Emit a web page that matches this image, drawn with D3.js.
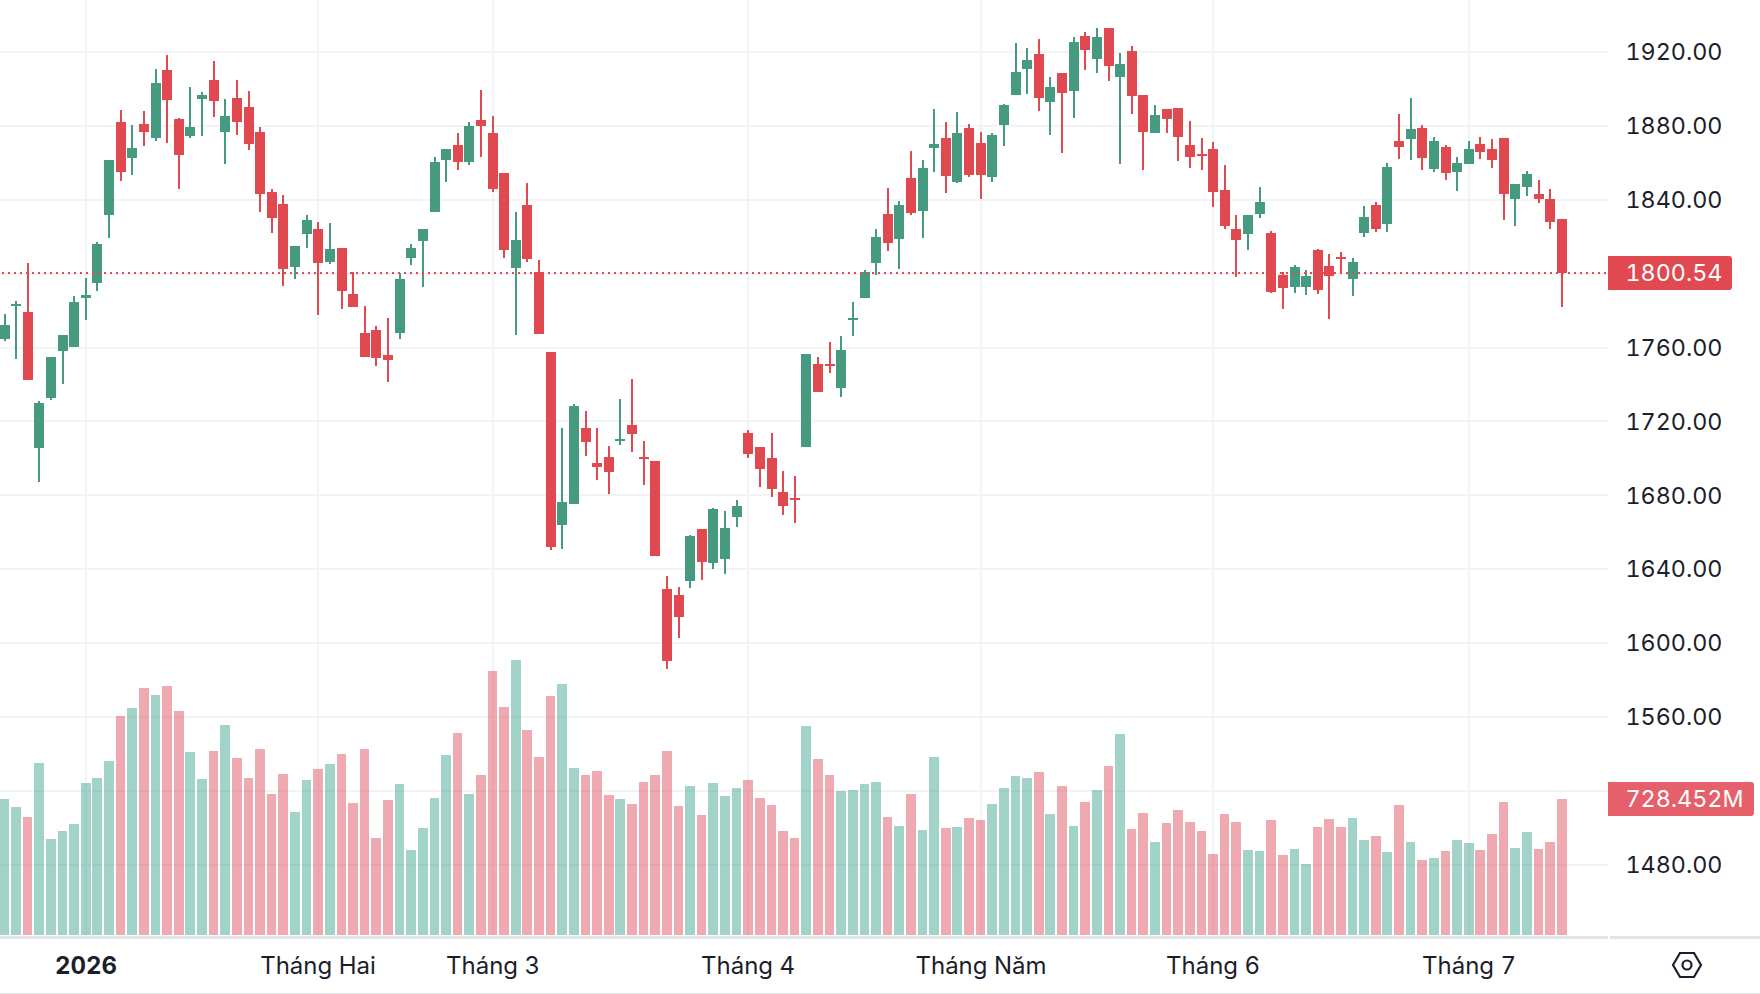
<!DOCTYPE html>
<html lang="vi">
<head>
<meta charset="utf-8">
<title>Biểu đồ nến</title>
<script src="https://cdn.jsdelivr.net/npm/d3@7"></script>
<style>
  html, body { margin: 0; padding: 0; background: #fff; }
  svg { display: block; font-family: Inter, "Noto Sans", sans-serif; font-feature-settings: "tnum" 1; }
  .price-axis text { fill: #1b1e2b; font-size: 23.3px; font-family: Inter, "Noto Sans", sans-serif; }
  .time-axis text { fill: #1b1e2b; font-size: 24px; font-family: Inter, "Noto Sans", sans-serif; }
  .time-axis text.year { font-weight: 700; }
</style>
</head>
<body>
<svg id="chart" width="1760" height="994"></svg>
<script>
// Daily sessions, oldest first
const opens = [1764.6,1782.5,1779.2,1705.6,1732.7,1758.1,1760.3,1786.8,1794.9,1831.8,1882.1,1862.6,1881,1873.4,1910.3,1883.7,1874.5,1894.6,1904.8,1876.7,1895.1,1890.2,1876.7,1844.2,1837.7,1803.6,1821.5,1824.2,1806.3,1813.9,1789,1767.9,1769.5,1756,1768.1,1808.5,1817.6,1833.4,1861.6,1869.6,1860.5,1883.1,1876.1,1854.5,1803.1,1837.1,1800.8,1757.5,1663.8,1675.2,1716.5,1697.4,1700.7,1709.4,1717.9,1700.7,1698.5,1629.2,1625.9,1633.6,1661.8,1643.3,1645.4,1668.2,1713.6,1706.1,1700.1,1681.7,1678.3,1706.1,1751.3,1751.3,1738.3,1775.2,1786.8,1805.8,1832.3,1818.8,1851.8,1833.9,1868,1873.4,1849.6,1878.9,1870.7,1852.3,1880.5,1896.7,1910.8,1918.9,1892.9,1908.6,1898.9,1928.7,1916.2,1933,1906.5,1920.5,1896.7,1876.1,1889.1,1889.7,1869.6,1864.7,1867.4,1845.2,1824.1,1821.3,1832.2,1821.9,1799.1,1792.7,1792.7,1812.7,1804,1808.9,1797,1821.9,1837,1826.8,1871.7,1872.8,1878.7,1856.5,1868.4,1854.9,1859.2,1870.1,1867.4,1873.3,1840.3,1846.8,1843,1840.3,1829.5];
const highs = [1778.2,1785.2,1805.8,1731,1754.9,1766.8,1787.9,1797.6,1817.1,1861.5,1888.6,1880.5,1888.1,1910.8,1918.4,1884.3,1901.1,1898.3,1915.1,1894.6,1904.8,1898.9,1879.4,1845.8,1842.6,1815,1831.8,1828,1827.4,1813.9,1800.9,1782.5,1771.7,1776,1800.2,1816,1824.2,1863.2,1867.6,1876.1,1882.1,1899.5,1885.4,1854.5,1833.4,1849.1,1807.5,1757.5,1716.5,1729.3,1725.6,1716.5,1706.7,1732,1743,1709.4,1698.5,1636.3,1630.3,1658.4,1661.8,1672.9,1671.5,1677.3,1715.2,1706.1,1713.6,1693.1,1690.4,1756.5,1755.1,1763.2,1766,1784.9,1802,1824.2,1846.4,1839.3,1866.4,1861.5,1889.1,1882.1,1887.5,1881,1876.7,1876.1,1891.8,1924.9,1922.2,1927,1906.5,1908.6,1928.1,1930.8,1933,1933,1919.5,1923.2,1896.7,1891.3,1889.1,1889.7,1882.6,1873.3,1871.2,1858.7,1831.6,1831.6,1846.8,1823,1800.8,1804.6,1801.9,1813.2,1810.5,1811.6,1808.4,1836.5,1838.7,1859.8,1886.3,1895,1880.4,1873.9,1869.5,1863,1871.7,1873.9,1872.8,1873.3,1848.4,1855.5,1850.6,1845.7,1829.5];
const lows = [1763.5,1753.8,1742.4,1687.2,1731.6,1740.2,1760.3,1774.9,1790.6,1819.3,1850.2,1853.4,1869.1,1871.8,1870.7,1845.8,1873.4,1874.5,1884.8,1859.4,1875.1,1866.9,1833.4,1822,1793.3,1797.1,1813.9,1777.6,1805.2,1780.9,1782,1754.9,1750,1741.3,1764.4,1804.8,1792.7,1833.4,1849.5,1856.2,1858.9,1863.2,1844.1,1808.5,1766.8,1806.2,1767.3,1650.4,1650.8,1675.2,1701.1,1688.3,1680.6,1707.2,1703.4,1685.6,1647,1585.9,1602.7,1629.6,1634,1640,1637.3,1662.8,1700.1,1684.4,1679,1669.2,1664.9,1706.1,1736.2,1746.5,1733.5,1766,1786.8,1799.3,1812.3,1802.5,1831.7,1819.3,1855,1843.7,1849.1,1852.3,1840.4,1849.6,1869.1,1896.7,1897.3,1888.1,1875,1865.3,1884.3,1910.3,1908.6,1904.3,1859.4,1886.4,1856.1,1876.1,1876.1,1861,1857.2,1856,1836,1824.1,1798.1,1812.7,1830,1789.4,1780.7,1789.4,1788.3,1788.9,1775.3,1800.2,1787.8,1819.7,1822.4,1822.4,1862,1861.4,1856,1854.9,1850.6,1844.6,1859.2,1862,1857.1,1828.9,1825.7,1841.9,1838.1,1824.1,1781.7];
const closes = [1772.2,1783.6,1742.4,1730,1754.9,1766.8,1784.6,1788.4,1816,1861.5,1855,1868,1876.7,1903.2,1894,1864.2,1879.4,1896.7,1893.5,1885.4,1882.1,1870.2,1843.1,1830.1,1802.5,1815,1829,1805.8,1813.3,1790.6,1782,1754.9,1754.3,1753.2,1797.1,1813.9,1824.2,1860.5,1867.6,1860.5,1880,1880,1845.8,1812.9,1818.2,1807.9,1767.3,1652,1676.3,1728.3,1708.8,1695.3,1692.6,1710.5,1713.2,1699.7,1647,1590.3,1614.1,1657.8,1643.7,1672.5,1662.2,1674.2,1702.4,1694.1,1683.3,1674.2,1677.3,1756.5,1736.2,1750.3,1758.9,1776.2,1800.9,1819.8,1816.6,1837.2,1832.8,1857.2,1870.2,1852.9,1876.1,1853.4,1853.4,1875,1891.3,1909.2,1915.7,1895.1,1901,1897.8,1925.4,1921.1,1928.1,1912.4,1913.5,1896.2,1876.7,1885.9,1883.7,1874,1863.2,1863.6,1844.1,1825.7,1818.1,1831.6,1838.7,1789.9,1792.1,1803.5,1798.6,1791,1798.6,1807.8,1806.2,1830.6,1824.1,1857.6,1868.4,1878.2,1862.5,1871.7,1854.4,1859.8,1867.4,1865.7,1861.4,1843,1848.4,1853.8,1840.3,1827.8,1800.54];
// Traded volume per session, in millions
const volumes = [728,685,632,921,514,557,594,814,841,932,1173,1216,1323,1285,1333,1200,980,835,985,1125,948,841,996,755,862,659,830,889,916,969,707,996,519,723,809,455,573,734,964,1082,755,857,1414,1221,1473,1098,953,1280,1344,894,857,878,750,728,702,819,857,985,691,798,643,814,744,787,830,734,696,557,519,1119,942,857,771,776,809,819,632,584,755,562,953,573,578,627,616,702,787,851,841,873,648,798,584,712,776,905,1076,568,653,498,600,669,605,557,434,648,605,455,450,616,428,461,380,578,621,578,627,509,530,444,696,498,402,412,450,509,493,455,541,712,466,552,461,498,728.452];
// Value axis and time axis annotations
const priceTicks = [1920,1880,1840,1800,1760,1720,1680,1640,1600,1560,1520,1480];
const hiddenPriceLabels = [1800,1520];
const monthTickIndex = [7,27,42,64,84,104,126];
const monthTickLabels = ["2026","Tháng Hai","Tháng 3","Tháng 4","Tháng Năm","Tháng 6","Tháng 7"];
const lastPrice = 1800.54;
const lastVolumeLabel = "728.452M";

const UP = "#459a80", DOWN = "#e0494f";
const UP_VOL = "#43a793", DOWN_VOL = "#dd5561";
const GRID = "#f2f3f4";
const plotRight = 1608, baseY = 935, axisLineY = 937, chartBottom = 993;

const svg = d3.select("#chart");
const x = d3.scaleLinear().domain([0, 134]).range([5, 1562.3]);
const px = i => Math.floor(x(i));
const y = d3.scaleLinear().domain([1920, 1480]).range([52, 864.8]);
const yVol = d3.scaleLinear().domain([0, 728.452]).range([baseY, 799]);
const py = v => Math.round(y(v));
const isUp = i => closes[i] >= opens[i];
const idx = d3.range(closes.length);

// Grid sits under everything else
const grid = svg.append("g").attr("fill", GRID);
grid.selectAll("rect.h").data(priceTicks).join("rect").attr("class", "h")
  .attr("x", 0).attr("width", plotRight).attr("y", d => py(d) - 1).attr("height", 2);
grid.selectAll("rect.v").data(monthTickIndex).join("rect").attr("class", "v")
  .attr("x", d => px(d) - 1).attr("width", 2).attr("y", 0).attr("height", axisLineY - 1);

// Volume histogram, translucent so the grid shows through
svg.append("g").selectAll("rect").data(idx).join("rect")
  .attr("x", i => px(i) - 5)
  .attr("width", i => Math.round(x(i) + 4.2) - (px(i) - 5))
  .attr("y", i => Math.round(yVol(volumes[i])))
  .attr("height", i => baseY - Math.round(yVol(volumes[i])))
  .attr("fill", i => isUp(i) ? UP_VOL : DOWN_VOL)
  .attr("fill-opacity", 0.5);

// Candles: wick first, then the body
const candles = svg.append("g").selectAll("g").data(idx).join("g")
  .attr("fill", i => isUp(i) ? UP : DOWN);
candles.append("rect")
  .attr("x", i => px(i) - 1).attr("width", 2)
  .attr("y", i => py(highs[i]))
  .attr("height", i => py(lows[i]) - py(highs[i]));
candles.append("rect")
  .attr("x", i => px(i) - 5).attr("width", 10)
  .attr("y", i => py(Math.max(opens[i], closes[i])))
  .attr("height", i => Math.max(2, py(Math.min(opens[i], closes[i])) - py(Math.max(opens[i], closes[i]))));

// Last price line
svg.append("line")
  .attr("x1", 2).attr("x2", plotRight)
  .attr("y1", py(lastPrice)).attr("y2", py(lastPrice))
  .attr("stroke", DOWN).attr("stroke-width", 2).attr("stroke-dasharray", "2 4");

// Time axis frame
svg.append("rect").attr("x", 0).attr("y", axisLineY - 1).attr("width", plotRight).attr("height", 3).attr("fill", "#e2e4ec");
svg.append("rect").attr("x", plotRight + 2).attr("y", axisLineY - 1).attr("width", 1760 - plotRight - 2).attr("height", 3).attr("fill", "#e2e4ec");
svg.append("rect").attr("x", 0).attr("y", chartBottom).attr("width", 1760).attr("height", 1).attr("fill", "#e2e4ec");

// Price axis labels, two of them give way to the badges
const priceAxis = d3.axisRight(y)
  .tickValues(priceTicks.filter(t => !hiddenPriceLabels.includes(t)))
  .tickFormat(d3.format(".2f")).tickSize(0).tickPadding(0);
const gPrice = svg.append("g").attr("class", "price-axis")
  .attr("transform", "translate(1625.5,-0.5)").call(priceAxis);
gPrice.select(".domain").remove();
gPrice.selectAll("text").attr("x", 0).attr("dy", "0.35em");

// Time axis labels
const timeAxis = d3.axisBottom(x)
  .tickValues(monthTickIndex)
  .tickFormat(d => monthTickLabels[monthTickIndex.indexOf(d)])
  .tickSize(0).tickPadding(0);
const gTime = svg.append("g").attr("class", "time-axis")
  .attr("transform", "translate(0,966)").call(timeAxis);
gTime.select(".domain").remove();
gTime.selectAll(".tick").attr("transform", d => `translate(${px(d)},0)`);
gTime.selectAll("text").attr("y", 0).attr("dy", "0.35em")
  .classed("year", d => d === monthTickIndex[0]);

// Badge with square left corners and rounded right corners
function badge(yMid, right, fill, label) {
  const top = yMid - 17, bottom = yMid + 17, r = 3;
  const p = d3.path();
  p.moveTo(plotRight, top);
  p.lineTo(right - r, top);
  p.arcTo(right, top, right, top + r, r);
  p.lineTo(right, bottom - r);
  p.arcTo(right, bottom, right - r, bottom, r);
  p.lineTo(plotRight, bottom);
  p.closePath();
  svg.append("path").attr("d", p.toString()).attr("fill", fill);
  svg.append("text").attr("x", 1625.5).attr("y", yMid - 0.5).attr("dy", "0.35em")
    .attr("fill", "#fff").attr("font-size", 23.3).text(label);
}
badge(273, 1732, DOWN, d3.format(".2f")(lastPrice));
badge(799, 1754, "#e5606a", lastVolumeLabel);

// Settings glyph in the corner
const cx = 1687, cy = 965;
const hex = d3.line()([[-14, 0], [-7, -12], [7, -12], [14, 0], [7, 12], [-7, 12]].map(([a, b]) => [cx + a, cy + b])) + "Z";
svg.append("path").attr("d", hex).attr("fill", "none").attr("stroke", "#1b1e2b").attr("stroke-width", 2.2);
svg.append("circle").attr("cx", cx).attr("cy", cy).attr("r", 4.5).attr("fill", "none").attr("stroke", "#1b1e2b").attr("stroke-width", 2.2);
</script>
</body>
</html>
